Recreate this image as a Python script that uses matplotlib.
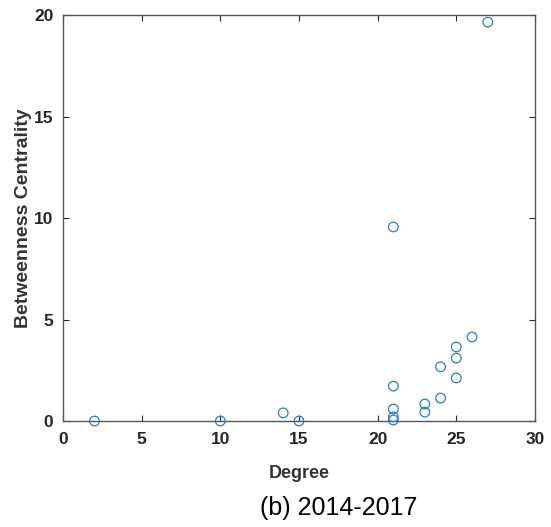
import matplotlib
matplotlib.use("Agg")
import matplotlib.pyplot as plt

# degree vs. betweenness centrality, 2014-2017
degree = [2, 10, 14, 15, 21, 21, 21, 21, 21, 23, 23, 24, 24, 25, 25, 25, 26, 27]
betweenness = [0.0, 0.0, 0.4, 0.0, 9.56, 1.72, 0.59, 0.2, 0.05, 0.84, 0.44,
               2.67, 1.13, 3.65, 3.1, 2.12, 4.14, 19.65]

plt.rcParams['font.family'] = ['Liberation Sans', 'DejaVu Sans']

fig = plt.figure(figsize=(5.51, 5.27), dpi=100)
ax = fig.add_axes([0.1143, 0.2011, 0.8566, 0.7704])

ax.scatter(degree, betweenness, s=48, facecolors='none', edgecolors='#2a7fb8',
           linewidths=0.9, clip_on=False, zorder=3)

ax.set_xlim(0, 30)
ax.set_ylim(0, 20)
ax.set_xticks(range(0, 31, 5))
ax.set_yticks(range(0, 21, 5))
ax.tick_params(direction='in', top=True, right=True, length=4, width=0.8,
               colors='#262626', labelsize=12.5)
ax.tick_params(axis='x', pad=8)
ax.tick_params(axis='y', pad=7)
for lab in ax.get_xticklabels() + ax.get_yticklabels():
    lab.set_fontweight('bold')
for sp in ax.spines.values():
    sp.set_color('#555555')
    sp.set_linewidth(1.0)

ax.set_xlabel('Degree', fontsize=13, fontweight='bold', color='#333333', labelpad=13)
ax.set_ylabel('Betweenness Centrality', fontsize=14, fontweight='bold',
              color='#333333', labelpad=1)

fig.text(0.615, 0.023, '(b) 2014-2017', fontsize=18, ha='center', va='baseline')

fig.savefig('out.png', dpi=100)
